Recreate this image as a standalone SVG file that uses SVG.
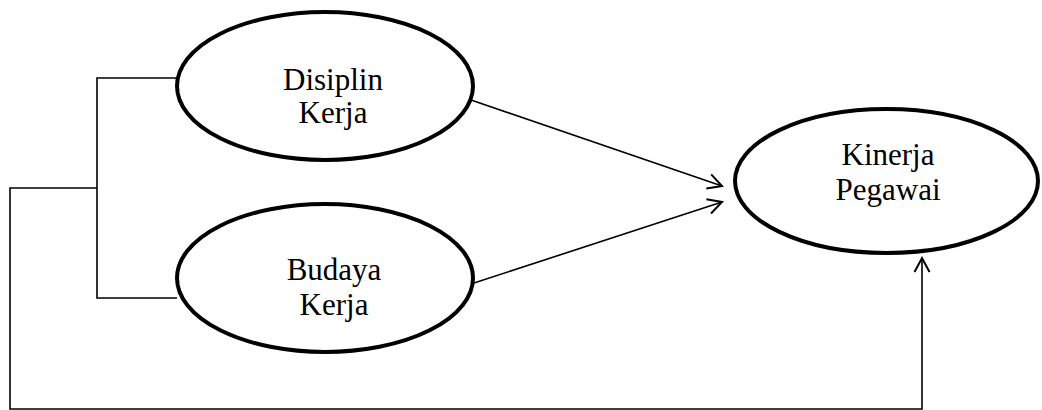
<svg xmlns="http://www.w3.org/2000/svg" width="1042" height="410" viewBox="0 0 1042 410">
  <style>
    .node { fill: #ffffff; stroke: #000000; stroke-width: 4; }
    .label { font-family: "Liberation Serif", "Times New Roman", serif; font-size: 31px; fill: #000000; text-anchor: middle; }
    .wire { fill: none; stroke: #000000; stroke-width: 1.6; }
  </style>
  <defs>
    <marker id="open-arrow" markerUnits="userSpaceOnUse" markerWidth="20" markerHeight="20" viewBox="-16 -10 20 20" refX="0" refY="0" orient="auto">
      <path d="M-14,-7.5 L0,0 L-14,7.5" fill="none" stroke="#000000" stroke-width="2"/>
    </marker>
  </defs>

  <!-- connectors -->
  <g id="connectors">
    <!-- bracket joining the two independent variables -->
    <polyline class="wire" points="177,78 97,78 97,298 177,298"/>
    <!-- simultaneous path to the dependent variable -->
    <polyline class="wire" points="97,188 10,188 10,409 922,409 922,258" marker-end="url(#open-arrow)"/>
    <!-- partial paths -->
    <line class="wire" x1="471" y1="100" x2="722" y2="186" marker-end="url(#open-arrow)"/>
    <line class="wire" x1="474" y1="283" x2="722" y2="202" marker-end="url(#open-arrow)"/>
  </g>

  <g id="disiplin-kerja">
    <ellipse class="node" cx="325" cy="86" rx="148" ry="74"/>
    <text class="label" x="333" y="90">Disiplin</text>
    <text class="label" x="333" y="123">Kerja</text>
  </g>

  <g id="budaya-kerja">
    <ellipse class="node" cx="325" cy="278" rx="148" ry="74"/>
    <text class="label" x="334" y="280">Budaya</text>
    <text class="label" x="334" y="315">Kerja</text>
  </g>

  <g id="kinerja-pegawai">
    <ellipse class="node" cx="886.5" cy="181" rx="151.5" ry="72"/>
    <text class="label" x="888" y="165">Kinerja</text>
    <text class="label" x="888" y="200">Pegawai</text>
  </g>
</svg>
